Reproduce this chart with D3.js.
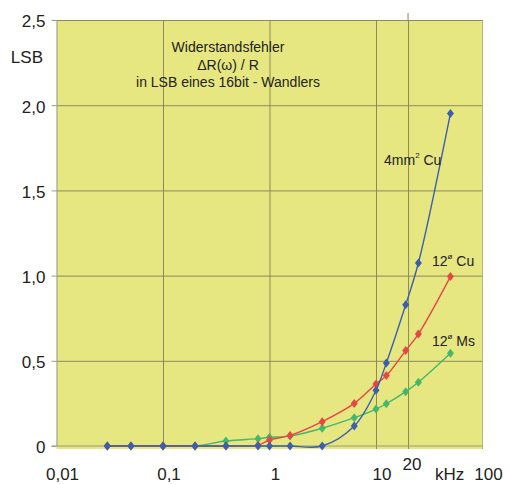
<!DOCTYPE html>
<html>
<head>
<meta charset="utf-8">
<script src="https://cdn.jsdelivr.net/npm/d3@7"></script>
<style>
  body { margin: 0; background: #fff; }
  svg { font-family: "Liberation Sans", Arial, sans-serif; }
  .grid line { stroke: #8c8a5c; stroke-width: 1; }
  .yaxis path, .yaxis line { stroke: #9a9a9a; }
  .yaxis text { font-size: 17px; fill: #222; }
</style>
</head>
<body>
<script>
const w = 510;
const h = 484;

// data (kHz, LSB)
const freqs = [0.03, 0.05, 0.1, 0.2, 0.39, 0.78, 1, 1.56, 3.125, 6.25, 10, 12.5, 19, 25, 50];
const cu4 = [0, 0, 0, 0, 0, 0, 0, 0, 0, 0.117, 0.327, 0.487, 0.829, 1.074, 1.952];
const cu12 = [0, 0, 0, 0, 0, 0.005, 0.035, 0.062, 0.143, 0.25, 0.364, 0.413, 0.56, 0.657, 0.994];
const ms12 = [0, 0, 0, 0, 0.029, 0.043, 0.051, 0.058, 0.104, 0.166, 0.217, 0.248, 0.319, 0.374, 0.544];

const yTicks = [0, 0.5, 1, 1.5, 2, 2.5];
const yTickLabels = ['0', '0,5', '1,0', '1,5', '2,0', '2,5'];
const xTicks = [0.01, 0.1, 1, 10, 100];
const xTickLabels = ['0,01', '0,1', '1', '10', '100'];
const xGrid = [0.1, 1, 10, 20];
const titleLines = ['Widerstandsfehler', '\u0394R(\u03c9) / R', 'in LSB eines 16bit - Wandlers'];

const series = [
  { name: '12', sup: '\u00f8', rest: ' Ms', values: ms12, color: '#45b66a', lx: 432, ly: 346 },
  { name: '12', sup: '\u00f8', rest: ' Cu', values: cu12, color: '#e84545', lx: 432, ly: 266 },
  { name: '4mm', sup: '2', rest: ' Cu', values: cu4, color: '#3b5fae', lx: 384, ly: 165 }
];

const svg = d3.select('body').append('svg').attr('width', w).attr('height', h);

const xScale = d3.scaleLog().domain([0.01, 100]).range([56.5, 482.5]);
const yScale = d3.scaleLinear().domain([0, 2.5]).range([446, 20]);

// plot background
svg.append('rect')
  .attr('x', xScale(0.01))
  .attr('y', yScale(2.5))
  .attr('width', xScale(100) - xScale(0.01))
  .attr('height', yScale(0) - yScale(2.5) + 3)
  .attr('fill', '#e7e781')
  .attr('stroke', 'none');

// horizontal gridlines
const hGrid = d3.axisRight(yScale)
  .tickValues([0.5, 1, 1.5, 2, 2.5])
  .tickFormat('')
  .tickSize(xScale(100) - xScale(0.01));
svg.append('g')
  .attr('class', 'grid')
  .attr('transform', 'translate(' + xScale(0.01) + ',0)')
  .call(hGrid)
  .call(g => g.select('.domain').remove());

// vertical gridlines
const vGrid = d3.axisTop(xScale)
  .tickValues(xGrid)
  .tickFormat('')
  .tickSize(yScale(0) - yScale(2.5) + 3);
svg.append('g')
  .attr('class', 'grid')
  .attr('transform', 'translate(0,' + (yScale(0) + 3) + ')')
  .call(vGrid)
  .call(g => g.select('.domain').remove());

// 20 kHz line sticks out above the frame
svg.append('line')
  .attr('x1', xScale(20)).attr('x2', xScale(20))
  .attr('y1', 13).attr('y2', yScale(2.5))
  .attr('stroke', '#8c8a5c');

// right border
svg.append('line')
  .attr('x1', xScale(100)).attr('x2', xScale(100))
  .attr('y1', yScale(2.5)).attr('y2', yScale(0) + 3)
  .attr('stroke', '#b5b27a');

// y axis
const yAxis = d3.axisLeft(yScale)
  .tickValues(yTicks)
  .tickFormat((d, i) => yTickLabels[i])
  .tickSize(5)
  .tickPadding(6)
  .tickSizeOuter(0);
svg.append('g')
  .attr('class', 'yaxis')
  .attr('transform', 'translate(' + xScale(0.01) + ',0)')
  .call(yAxis)
  .call(g => g.selectAll('text').attr('dy', '0.4em'));

// x axis baseline
svg.append('line')
  .attr('x1', xScale(0.01) - 5).attr('x2', xScale(100))
  .attr('y1', yScale(0)).attr('y2', yScale(0))
  .attr('stroke', '#9a9a7a');

// x tick labels
svg.append('g')
  .selectAll('text')
  .data(xTicks)
  .enter()
  .append('text')
  .attr('x', d => xScale(d) + 6)
  .attr('y', 480)
  .attr('text-anchor', 'middle')
  .attr('font-size', 17)
  .attr('fill', '#222')
  .text((d, i) => xTickLabels[i]);

svg.append('text')
  .attr('x', xScale(20) + 4)
  .attr('y', 470)
  .attr('text-anchor', 'middle')
  .attr('font-size', 17)
  .attr('fill', '#222')
  .text('20');

svg.append('text')
  .attr('x', 435)
  .attr('y', 480)
  .attr('font-size', 17)
  .attr('fill', '#222')
  .text('kHz');

svg.append('text')
  .attr('x', 43)
  .attr('y', 63)
  .attr('text-anchor', 'end')
  .attr('font-size', 17)
  .attr('fill', '#222')
  .text('LSB');

// title
svg.append('g')
  .selectAll('text')
  .data(titleLines)
  .enter()
  .append('text')
  .attr('x', 228)
  .attr('y', (d, i) => 52 + i * 17.5)
  .attr('text-anchor', 'middle')
  .attr('font-size', 14)
  .attr('fill', '#222')
  .text(d => d);

// lines and markers
const line = d3.line()
  .x(d => xScale(d[0]))
  .y(d => yScale(d[1]))
  .curve(d3.curveCatmullRom.alpha(0.5));

const diamond = 'M0,-4.5L3.5,0L0,4.5L-3.5,0Z';

series.forEach(s => {
  const pts = freqs.map((f, i) => [f, s.values[i]]);
  svg.append('path')
    .datum(pts)
    .attr('d', line)
    .attr('fill', 'none')
    .attr('stroke', s.color)
    .attr('stroke-width', 1.4);

  svg.append('g')
    .selectAll('path')
    .data(pts)
    .enter()
    .append('path')
    .attr('d', diamond)
    .attr('transform', d => 'translate(' + xScale(d[0]) + ',' + yScale(d[1]) + ')')
    .attr('fill', s.color);

  const t = svg.append('text')
    .attr('x', s.lx)
    .attr('y', s.ly)
    .attr('font-size', 14)
    .attr('fill', '#222');
  t.append('tspan').text(s.name);
  t.append('tspan').attr('font-size', 8).attr('dy', -7).text(s.sup);
  t.append('tspan').attr('dy', 7).text(s.rest);
});
</script>
</body>
</html>
